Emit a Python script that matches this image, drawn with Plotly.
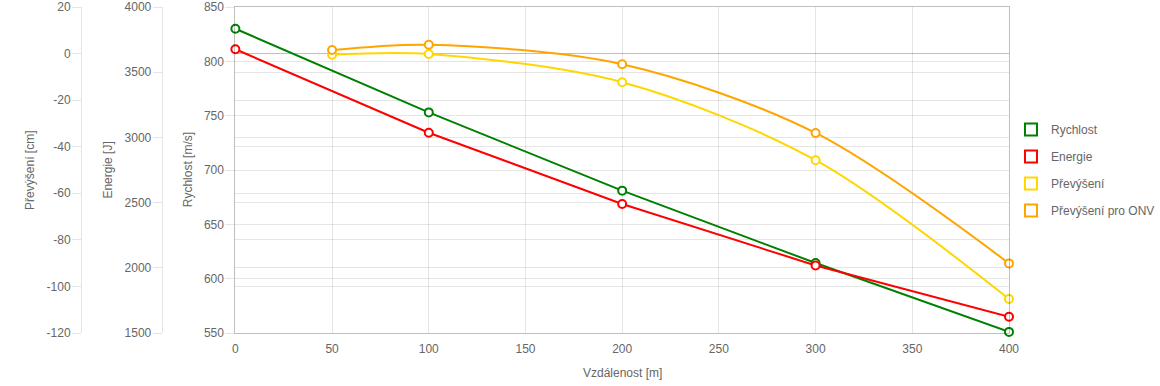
import plotly.graph_objects as go

distance = [0, 100, 200, 300, 400]
speed = [830, 753, 681, 614.4, 551]
energy = [3676, 3036, 2489, 2018, 1625]
drop_dist = [50, 100, 200, 300, 400]
drop = [-0.5, -0.2, -12.3, -45.8, -105.4]
drop_onv = [1.5, 3.8, -4.6, -34.1, -90.1]
drop_ticks = [-120, -100, -80, -60, -40, -20, 0, 20]

GREEN = "#008000"
RED = "#ff0000"
GOLD = "#FFD700"
ORANGE = "#FFA500"
FONT = "Liberation Sans, Arial, Helvetica, sans-serif"
TXT = "#666666"
GRID = "rgba(0,0,0,0.1)"
ZERO = "rgba(0,0,0,0.25)"

W = 1010.0   # plot width in px (margin l=0, r=150)
H = 326.0    # plot height in px

def px(page_x):
    return page_x / W

fig = go.Figure()

def add_series(x, y, color, yaxis, shape, name):
    fig.add_trace(go.Scatter(
        x=x, y=y, yaxis=yaxis, mode="lines+markers", name=name,
        line=dict(color=color, width=2, shape=shape, smoothing=0.9),
        marker=dict(symbol="circle", size=8, color="white",
                    line=dict(color=color, width=2)),
        showlegend=False, cliponaxis=False))

add_series(distance, speed, GREEN, "y", "linear", "Rychlost")
add_series(distance, energy, RED, "y2", "linear", "Energie")
add_series(drop_dist, drop, GOLD, "y3", "spline", "Převýšení")
add_series(drop_dist, drop_onv, ORANGE, "y3", "spline", "Převýšení pro ONV")

# legend entries (box style)
for i, (name, color) in enumerate([("Rychlost", GREEN), ("Energie", RED),
                                   ("Převýšení", GOLD), ("Převýšení pro ONV", ORANGE)]):
    fig.add_trace(go.Scatter(
        x=[None], y=[None], mode="markers", name=name, legendgroup=f"g{i}",
        marker=dict(symbol="square", size=12, color="white",
                    line=dict(color=color, width=2)),
        showlegend=True))

tickfont = dict(family=FONT, size=12, color=TXT)

fig.update_layout(
    width=1160, height=386,
    margin=dict(l=0, r=150, t=7, b=53, pad=0),
    paper_bgcolor="white", plot_bgcolor="white",
    font=dict(family=FONT, size=12, color=TXT),
    hovermode=False,
    xaxis=dict(domain=[px(233.3), 1], range=[0, 400], dtick=50, tick0=0,
               showgrid=True, gridcolor=GRID, gridwidth=1,
               zeroline=False, showline=True, mirror=True,
               linecolor=ZERO, linewidth=1,
               ticks="", tickfont=tickfont, ticklabelstandoff=5),
    yaxis=dict(range=[550, 850], dtick=50, tick0=550,
               showgrid=True, gridcolor=GRID, zeroline=False,
               showline=True, mirror=True, linecolor=ZERO, linewidth=1,
               ticks="outside", ticklen=9, tickcolor=GRID,
               tickfont=tickfont, ticklabelstandoff=-1),
    yaxis2=dict(range=[1500, 4000], dtick=500, tick0=1500,
                overlaying="y", anchor="free", position=px(159.3), side="left",
                showgrid=True, gridcolor=GRID, zeroline=False,
                showline=True, linecolor=GRID, linewidth=1,
                ticks="outside", ticklen=9, tickcolor=GRID,
                tickfont=tickfont, ticklabelstandoff=-1),
    yaxis3=dict(range=[-120, 20], tickmode="array", tickvals=drop_ticks,
                ticktext=[str(v) for v in drop_ticks],
                overlaying="y", anchor="free", position=px(78.3), side="left",
                showgrid=True, gridcolor=GRID, zeroline=True, zerolinecolor=ZERO,
                zerolinewidth=1,
                showline=True, linecolor=GRID, linewidth=1,
                ticks="outside", ticklen=9, tickcolor=GRID,
                tickfont=tickfont, ticklabelstandoff=-1),
    legend=dict(x=px(1012), y=0.5, xanchor="left", yanchor="middle",
                traceorder="grouped", tracegroupgap=8,
                font=dict(family=FONT, size=12, color=TXT),
                bgcolor="rgba(0,0,0,0)", itemclick=False),
    showlegend=True,
    annotations=[
        dict(text="Převýšení [cm]", x=px(27), y=0.5, xref="paper", yref="paper",
             textangle=-90, showarrow=False, xanchor="center", yanchor="middle",
             font=dict(family=FONT, size=12, color=TXT)),
        dict(text="Energie [J]", x=px(105), y=0.5, xref="paper", yref="paper",
             textangle=-90, showarrow=False, xanchor="center", yanchor="middle",
             font=dict(family=FONT, size=12, color=TXT)),
        dict(text="Rychlost [m/s]", x=px(186), y=0.5, xref="paper", yref="paper",
             textangle=-90, showarrow=False, xanchor="center", yanchor="middle",
             font=dict(family=FONT, size=12, color=TXT)),
        dict(text="Vzdálenost [m]", x=px((233.3 + 1010) / 2), y=-40 / H,
             xref="paper", yref="paper", showarrow=False,
             xanchor="center", yanchor="middle",
             font=dict(family=FONT, size=12, color=TXT)),
    ],
)

fig.write_html("out.html",
               config={"displayModeBar": False},
               post_script="document.body.style.margin='0px';")
